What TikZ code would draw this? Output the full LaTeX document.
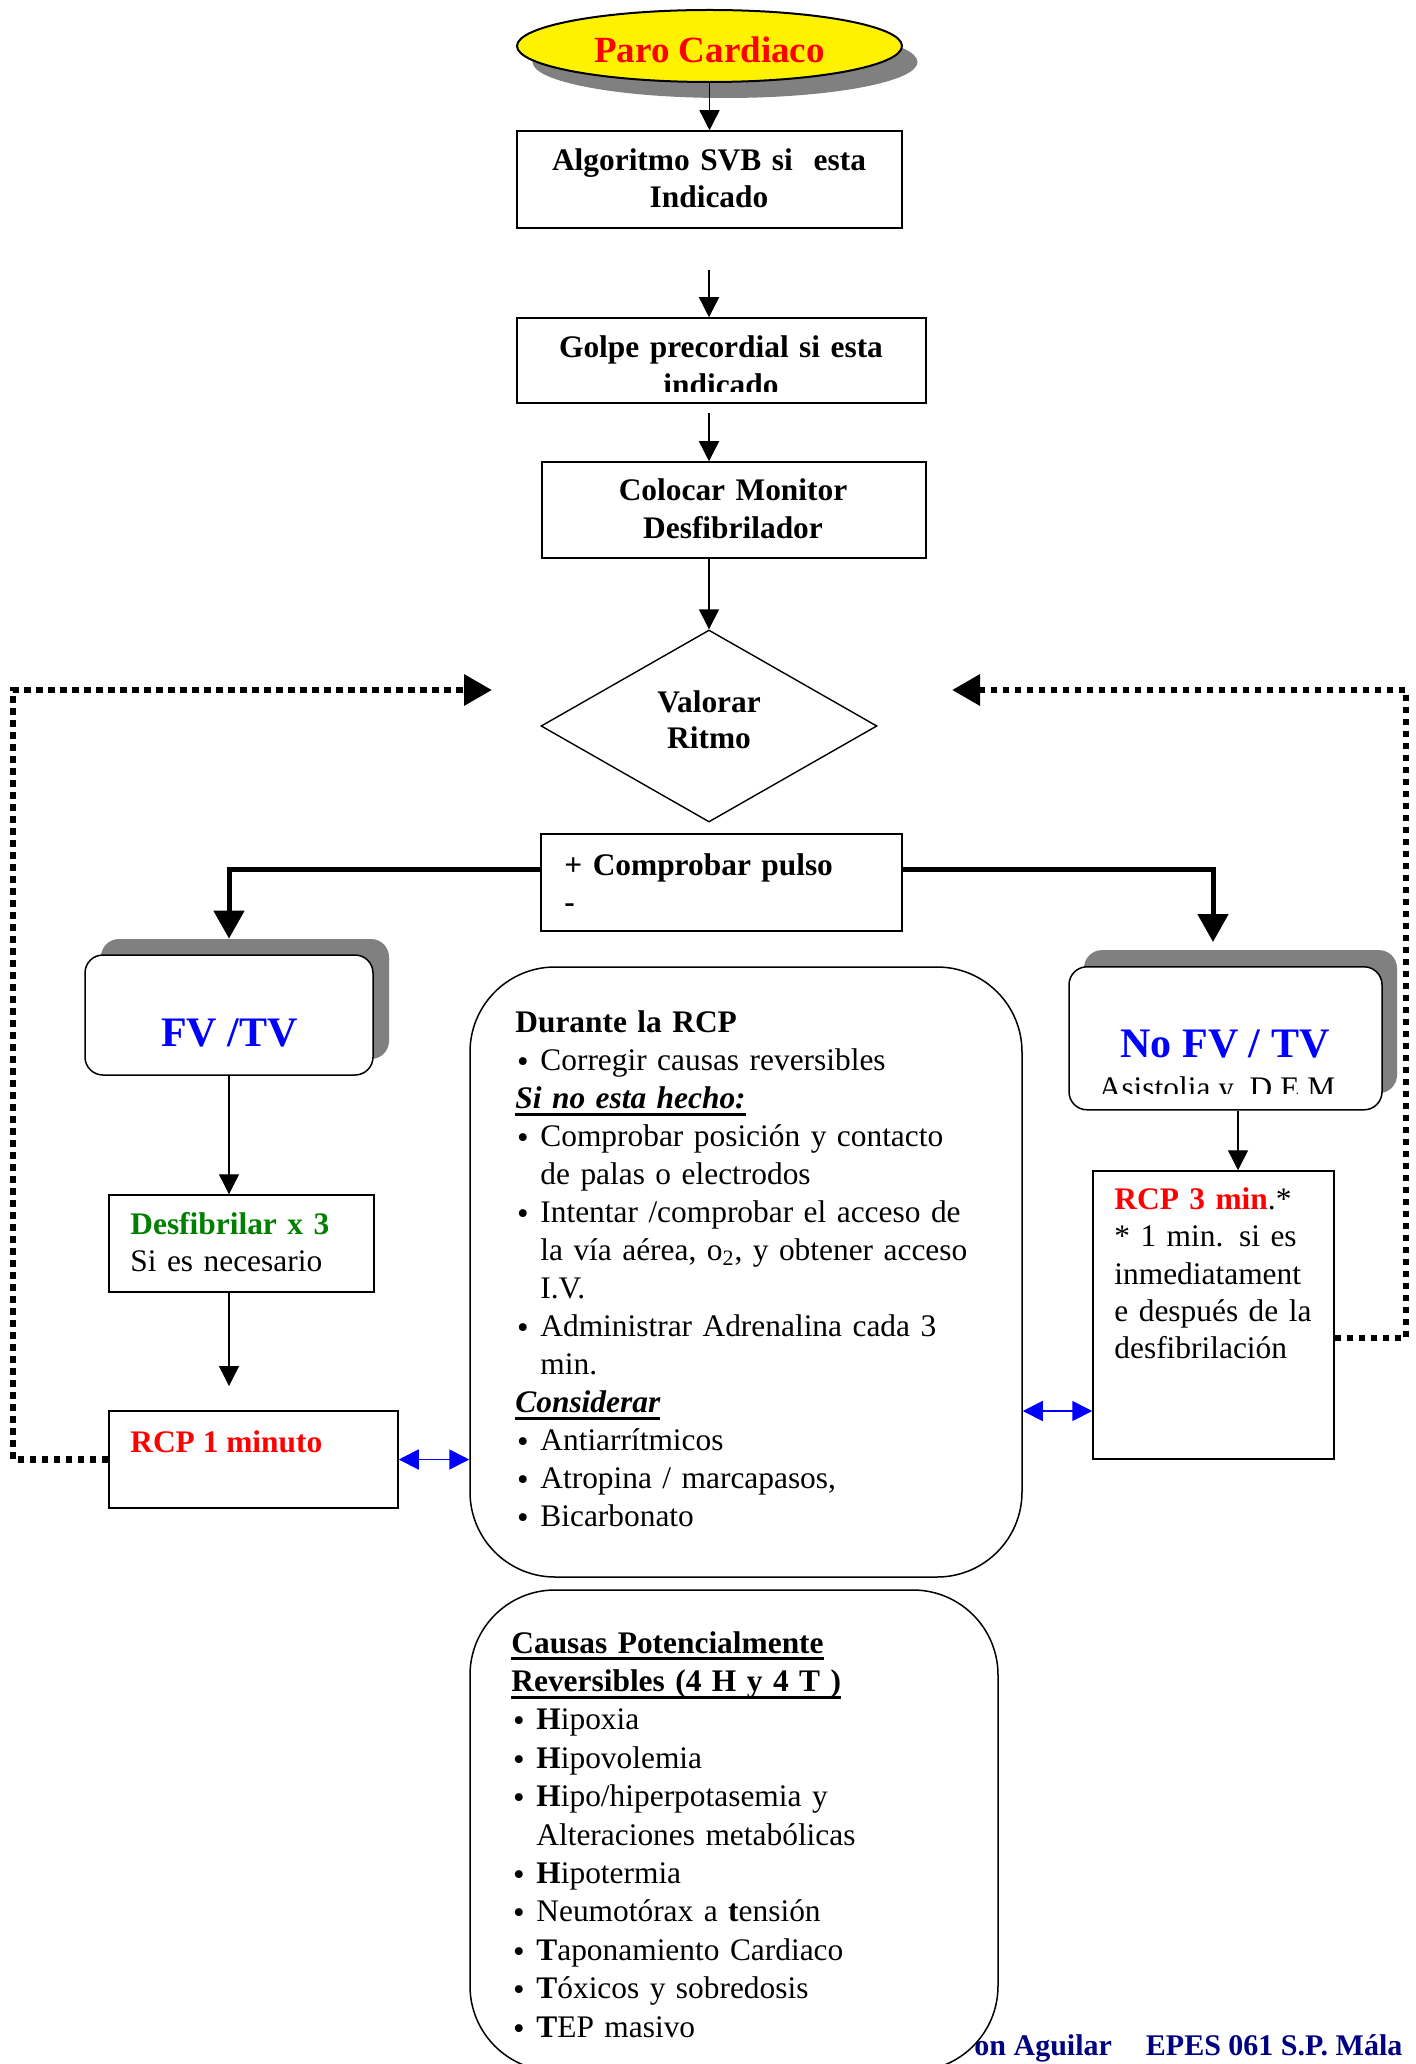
\documentclass[tikz,border=0pt]{standalone}
\usepackage{fontspec}
\setmainfont{Liberation Serif}
\usetikzlibrary{shapes.geometric,arrows.meta,calc}
\definecolor{navyc}{RGB}{0,0,128}
\definecolor{greenc}{RGB}{0,128,0}
\definecolor{shadowc}{RGB}{128,128,128}
\newsavebox\ulbox
\newsavebox\bulbox
\newcommand\myul[1]{\leavevmode\sbox\ulbox{#1}\rlap{\rule[-3.6pt]{\wd\ulbox}{1.5pt}}\usebox\ulbox}
\newcommand\bodyfont{\fontsize{15.7}{19}\selectfont}
\newcommand\bul{\leavevmode\sbox\bulbox{\scalebox{1.05}{\textbullet}}\makebox[12.5pt][l]{\hspace*{0.8pt}\raisebox{\dimexpr6.4pt-\ht\bulbox\relax}{\usebox\bulbox}}}
\newcommand\ind{\hspace*{12.5pt}}
\newcommand\fst{\rule{0pt}{14pt}}
\tikzset{
  box/.style={draw, line width=0.75pt, rectangle, inner sep=0pt},
  rbox/.style={draw, line width=0.75pt, rectangle, inner sep=0pt, fill=white},
  shbox/.style={fill=shadowc, rectangle, inner sep=0pt},
  arr/.style={-{Triangle[length=10pt,width=10pt]}, line width=0.7pt},
  tarr/.style={-{Triangle[length=14pt,width=15pt]}, line width=2.5pt},
  darr/.style={-{Triangle[length=14pt,width=15pt]}, line width=3.2pt, dash pattern=on 3.2pt off 2.8pt},
  barr/.style={{Triangle[length=10pt,width=10pt]}-{Triangle[length=10pt,width=10pt]}, line width=0.9pt, draw=blue, fill=blue},
  txt/.style={inner sep=0pt, font=\bodyfont},
  btxt/.style={inner sep=0pt, font=\bodyfont\bfseries},
}
\begin{document}
\begin{tikzpicture}[x=0.5pt,y=-0.5pt]
\useasboundingbox (0,0) rectangle (1415,2064);

% ---- top ellipse
\node[ellipse, fill=shadowc, minimum width=192.5pt, minimum height=36pt, inner sep=0pt] (parosh) at (725,62) {};
\node[ellipse, draw, line width=1pt, fill=yellow, minimum width=192.5pt, minimum height=36pt, inner sep=0pt] (paro) at (709.5,46) {};
\node[anchor=base, inner sep=0pt, font=\fontsize{18.5}{22}\selectfont\bfseries, text=red] (parot) at (709.5,63) {Paro Cardiaco};

% ---- box 1
\node[box, minimum width=192.5pt, minimum height=48.5pt] (b1) at (709.5,179.5) {};
\node[btxt, anchor=north, text width=190pt, align=center, font=\fontsize{15.7}{18.4}\selectfont\bfseries] (b1t) at (709,142) {\fst Algoritmo SVB si\ \ esta\\Indicado};

% ---- box 2
\node[box, minimum width=204.5pt, minimum height=42.5pt] (b2) at (721.5,360.5) {};
\begin{scope}
\clip (500,300) rectangle (950,392);
\node[btxt, anchor=north, text width=200pt, align=center] (b2t) at (721,328.7) {\fst Golpe precordial si esta\\indicado};
\end{scope}

% ---- box 3
\node[box, minimum width=192pt, minimum height=48pt] (b3) at (734,510) {};
\node[btxt, anchor=north, text width=190pt, align=center] (b3t) at (733,472) {\fst Colocar Monitor\\Desfibrilador};

% ---- diamond
\node[diamond, draw, line width=0.7pt, minimum width=168pt, minimum height=96pt, inner sep=0pt] (val) at (709,726) {};
\node[btxt, anchor=north, text width=100pt, align=center, font=\fontsize{15.7}{18.2}\selectfont\bfseries] (valt) at (709,683.7) {\fst Valorar\\Ritmo};

% ---- comprobar pulso
\node[box, minimum width=180.5pt, minimum height=48.5pt] (cp) at (721.5,882.5) {};
\node[btxt, anchor=north west, text width=170pt, align=left, font=\fontsize{15.7}{18.5}\selectfont\bfseries] (cpt) at (564,847) {\fst + Comprobar pulso\\-};

% ---- FV/TV
\node[shbox, rounded corners=9pt, minimum width=144pt, minimum height=60pt] (fvsh) at (245,999) {};
\node[rbox, rounded corners=9pt, minimum width=144pt, minimum height=60pt] (fv) at (229,1015) {};
\node[anchor=base, inner sep=0pt, font=\fontsize{21}{25}\selectfont\bfseries, text=blue] (fvt) at (229.5,1046) {FV /TV};

% ---- No FV/TV
\node[shbox, rounded corners=9pt, minimum width=156.5pt, minimum height=71.5pt] (nofvsh) at (1240.5,1021.6) {};
\node[rbox, rounded corners=9pt, minimum width=156.5pt, minimum height=71.5pt] (nofv) at (1225.5,1038.3) {};
\node[anchor=base, inner sep=0pt, font=\fontsize{21}{25}\selectfont\bfseries, text=blue] (nofvt) at (1225,1057) {No FV / TV};
\begin{scope}
\clip (1070,1060) rectangle (1380,1093);
\node[txt, anchor=base] (asis) at (1217,1098) {Asistolia y\ \ D.E.M};
\end{scope}

% ---- Desfibrilar
\node[box, minimum width=132.5pt, minimum height=48.5pt] (des) at (241.5,1243.5) {};
\node[txt, anchor=north west, text width=120pt, align=left, font=\fontsize{15.7}{18.6}\selectfont] (dest) at (130,1206) {\fst\textcolor{greenc}{\textbf{Desfibrilar x 3}}\\Si es necesario};

% ---- RCP 1 minuto
\node[box, minimum width=144.5pt, minimum height=48.5pt] (rcp1) at (253.5,1459.5) {};
\node[anchor=base west, inner sep=0pt, font=\bodyfont\bfseries, text=red] (rcp1t) at (130,1452) {RCP 1 minuto};

% ---- Durante la RCP
\node[rbox, rounded corners=42.5pt, minimum width=276pt, minimum height=305pt] (dur) at (746,1272) {};
\node[txt, anchor=north west, text width=260pt, align=left] (durt) at (515,1004) {\fst\textbf{Durante la RCP}\\
\bul Corregir causas reversibles\\
\myul{\textbf{\textit{Si no esta hecho:}}}\\
\bul Comprobar posición y contacto\\
\ind de palas o electrodos\\
\bul Intentar /comprobar el acceso de\\
\ind la vía aérea, o\textsubscript{2}, y obtener acceso\\
\ind I.V.\\
\bul Administrar Adrenalina cada 3\\
\ind min.\\
\myul{\textbf{\textit{Considerar}}}\\
\bul Antiarrítmicos\\
\bul Atropina / marcapasos,\\
\bul Bicarbonato};

% ---- RCP 3 min
\node[box, minimum width=120.5pt, minimum height=144pt] (rcp3) at (1213.5,1315) {};
\node[txt, anchor=north west, text width=112pt, align=left, font=\fontsize{15.7}{18.65}\selectfont] (rcp3t) at (1114,1181) {\fst\textcolor{red}{\textbf{RCP 3 min}}.*\\
{*} 1 min. si es\\
inmediatament\\
e después de la\\
desfibrilación};

% ---- footer (partly hidden by the box below)
\node[anchor=base west, inner sep=0pt, font=\fontsize{15}{18}\selectfont\bfseries, text=navyc] (foot) at (974,2055) {on Aguilar\hspace*{17pt}EPES 061 S.P. Mála};

% ---- Causas
\node[rbox, rounded corners=42.5pt, minimum width=264pt, minimum height=240.5pt] (cau) at (734,1830.5) {};
\begin{scope}
\clip (480,1600) rectangle (990,2037);
\node[txt, anchor=north west, text width=240pt, align=left, font=\fontsize{15.7}{19.2}\selectfont] (caut) at (511,1624.7) {\fst\myul{\textbf{Causas Potencialmente}}\\
\myul{\textbf{Reversibles (4 H y 4 T )}}\\
\bul\textbf{H}ipoxia\\
\bul\textbf{H}ipovolemia\\
\bul\textbf{H}ipo/hiperpotasemia y\\
\ind Alteraciones metabólicas\\
\bul\textbf{H}ipotermia\\
\bul Neumotórax a \textbf{t}ensión\\
\bul\textbf{T}aponamiento Cardiaco\\
\bul\textbf{T}óxicos y sobredosis\\
\bul\textbf{T}EP masivo};
\end{scope}

% ---- connectors
\coordinate (c12) at (709,270);
\coordinate (c23) at (709,413);
\coordinate (ythick) at (0,869);
\coordinate (rtip) at (1213,942);
\coordinate (c4) at (229,1386);
\coordinate (ld) at (13,690);
\coordinate (ltip) at (492,690);
\coordinate (yr) at (0,1338);
\coordinate (rd) at (1406,690);
\coordinate (rtip2) at (952,690);
\coordinate (xr) at (1238,0);
\coordinate (yb) at (0,1411);

\draw[arr] (paro.south) -- (b1.north);
\draw[arr] (c12) -- (c12 |- b2.north);
\draw[arr] (c23) -- (c23 |- b3.north);
\draw[arr] (val.north |- b3.south) -- (val.north);
\draw[tarr] (cp.west |- ythick) -| (fv.north |- fvsh.north);
\draw[tarr] (cp.east |- ythick) -| (rtip);
\draw[arr] (fv.south) -- (fv.south |- des.north);
\draw[arr] (fv.south |- des.south) -- (c4);
\draw[barr] (rcp1.east) -- (rcp1.east -| dur.west);
\draw[darr] (rcp1.west) -| (ld) -- (ltip);
\draw[arr] (nofv.south -| xr) -- (rcp3.north -| xr);
\draw[barr] (dur.east |- yb) -- (rcp3.west |- yb);
\draw[darr] (rcp3.east |- yr) -| (rd) -- (rtip2);
\end{tikzpicture}
\end{document}
